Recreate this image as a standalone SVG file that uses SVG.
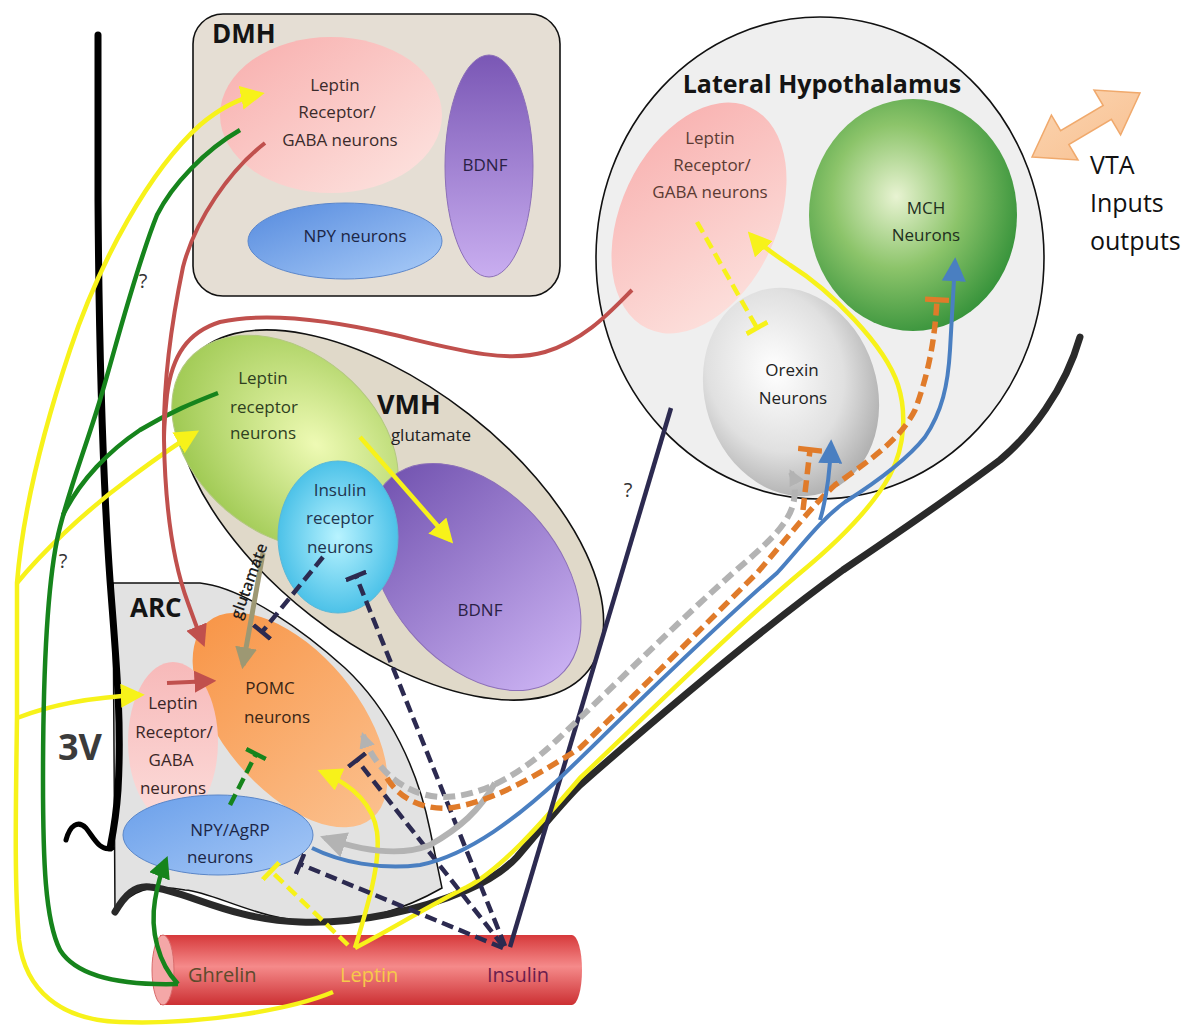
<svg xmlns="http://www.w3.org/2000/svg" width="1204" height="1028" viewBox="0 0 1204 1028">
<defs>
<style>
.t{font-family:"Open Sans","Liberation Sans",sans-serif;font-size:17px;text-anchor:middle}
.lb{font-family:"Open Sans","Liberation Sans",sans-serif;font-weight:700}
.q{font-family:"Open Sans","Liberation Sans",sans-serif;font-size:20px;fill:#333;text-anchor:middle}
.reg{stroke:#111;stroke-width:1.6}
.c{fill:none}
.y{stroke:#f7f21a;stroke-width:4.5}
.g{stroke:#16841c;stroke-width:4.5}
.r{stroke:#c0504d;stroke-width:4}
.n{stroke:#2c2a50;stroke-width:4.5}
.bl{stroke:#4a7fc1;stroke-width:4}
.gr{stroke:#b3b3b3;stroke-width:6}
.o{stroke:#e07b2a;stroke-width:5.5}
.ol{stroke:#9d9873;stroke-width:5}
.d{stroke-dasharray:12 6}
</style>
<marker id="aY" viewBox="0 0 10 10" refX="8" refY="5" markerWidth="24" markerHeight="24" markerUnits="userSpaceOnUse" orient="auto"><path d="M0,0L10,5L0,10z" fill="#f7f21a"/></marker>
<marker id="aR" viewBox="0 0 10 10" refX="8" refY="5" markerWidth="22" markerHeight="22" markerUnits="userSpaceOnUse" orient="auto"><path d="M0,0L10,5L0,10z" fill="#c0504d"/></marker>
<marker id="aG" viewBox="0 0 10 10" refX="8" refY="5" markerWidth="22" markerHeight="22" markerUnits="userSpaceOnUse" orient="auto"><path d="M0,0L10,5L0,10z" fill="#16841c"/></marker>
<marker id="aOl" viewBox="0 0 10 10" refX="8" refY="5" markerWidth="22" markerHeight="22" markerUnits="userSpaceOnUse" orient="auto"><path d="M0,0L10,5L0,10z" fill="#9d9873"/></marker>
<marker id="aB" viewBox="0 0 10 10" refX="8" refY="5" markerWidth="24" markerHeight="24" markerUnits="userSpaceOnUse" orient="auto"><path d="M0,0L10,5L0,10z" fill="#4a7fc1"/></marker>
<marker id="aGr" viewBox="0 0 10 10" refX="8" refY="5" markerWidth="26" markerHeight="26" markerUnits="userSpaceOnUse" orient="auto"><path d="M0,0L10,5L0,10z" fill="#b3b3b3"/></marker>
<marker id="aGrS" viewBox="0 0 10 10" refX="8" refY="5" markerWidth="16" markerHeight="16" markerUnits="userSpaceOnUse" orient="auto-start-reverse"><path d="M0,0L10,5L0,10z" fill="#b3b3b3"/></marker>
<marker id="tY" viewBox="0 0 10 10" refX="5" refY="5" markerWidth="24" markerHeight="24" markerUnits="userSpaceOnUse" orient="auto"><rect x="4" y="0" width="2" height="10" fill="#f7f21a"/></marker>
<marker id="tN" viewBox="0 0 10 10" refX="5" refY="5" markerWidth="22" markerHeight="22" markerUnits="userSpaceOnUse" orient="auto"><rect x="4" y="0" width="2" height="10" fill="#2c2a50"/></marker>
<marker id="tG" viewBox="0 0 10 10" refX="5" refY="5" markerWidth="22" markerHeight="22" markerUnits="userSpaceOnUse" orient="auto"><rect x="4" y="0" width="2" height="10" fill="#16841c"/></marker>
<marker id="tO" viewBox="0 0 10 10" refX="5" refY="5" markerWidth="24" markerHeight="24" markerUnits="userSpaceOnUse" orient="auto"><rect x="4" y="0" width="2.2" height="10" fill="#e07b2a"/></marker>
<linearGradient id="gPink" x1="0" y1="0" x2="1" y2="1"><stop offset="0" stop-color="#f8adac"/><stop offset="1" stop-color="#fde6e2"/></linearGradient>
<linearGradient id="gPurple" x1="0" y1="0" x2="0" y2="1"><stop offset="0" stop-color="#7a57b5"/><stop offset="1" stop-color="#c9aef0"/></linearGradient>
<linearGradient id="gPurple2" x1="0" y1="0" x2="1" y2="0"><stop offset="0" stop-color="#7556b2"/><stop offset="1" stop-color="#c9b0f1"/></linearGradient>
<linearGradient id="gBlue" x1="0" y1="0" x2="1" y2="1"><stop offset="0" stop-color="#558ade"/><stop offset="1" stop-color="#abcdf8"/></linearGradient>
<linearGradient id="gBlue2" x1="0" y1="0" x2="1" y2="1"><stop offset="0" stop-color="#6a9fea"/><stop offset="1" stop-color="#a6c8f6"/></linearGradient>
<radialGradient id="gMCH" cx="0.42" cy="0.42" r="0.62"><stop offset="0" stop-color="#e8f3d2"/><stop offset="0.5" stop-color="#8cc46a"/><stop offset="1" stop-color="#35923a"/></radialGradient>
<radialGradient id="gOrx" cx="0.45" cy="0.38" r="0.65"><stop offset="0" stop-color="#ffffff"/><stop offset="0.6" stop-color="#e0e0e0"/><stop offset="1" stop-color="#ababab"/></radialGradient>
<radialGradient id="gGreen" cx="0.6" cy="0.4" r="0.7"><stop offset="0" stop-color="#eefab4"/><stop offset="1" stop-color="#98c54a"/></radialGradient>
<radialGradient id="gCyan" cx="0.5" cy="0.5" r="0.55"><stop offset="0" stop-color="#b8f3ff"/><stop offset="1" stop-color="#42bde6"/></radialGradient>
<linearGradient id="gOrange" x1="0" y1="0" x2="1" y2="0"><stop offset="0" stop-color="#f8974a"/><stop offset="1" stop-color="#fbbf8c"/></linearGradient>
<linearGradient id="gPinkA" x1="0" y1="0" x2="0" y2="1"><stop offset="0" stop-color="#f7b9b9"/><stop offset="1" stop-color="#fcdcda"/></linearGradient>
<linearGradient id="gVessel" x1="0" y1="0" x2="0" y2="1"><stop offset="0" stop-color="#d6393b"/><stop offset="0.45" stop-color="#f58a8a"/><stop offset="1" stop-color="#cc3033"/></linearGradient>
<linearGradient id="gVta" x1="0" y1="0" x2="1" y2="1"><stop offset="0" stop-color="#fbd6b2"/><stop offset="1" stop-color="#f8bf90"/></linearGradient>
</defs>
<rect width="1204" height="1028" fill="#ffffff"/>

<g id="lateral-hypothalamus">
<ellipse cx="820" cy="258" rx="224" ry="241" fill="#efefef" class="reg"/>
<text class="lb" x="822" y="93" style="font-size:25px" text-anchor="middle" fill="#141414">Lateral Hypothalamus</text>
</g>
<g id="dmh">
<rect x="193" y="14" width="367" height="282" rx="30" fill="#e5ded4" class="reg"/>
<text class="lb" x="212" y="43" style="font-size:26px" fill="#141414">DMH</text>
</g>
<g id="vmh">
<ellipse cx="390" cy="515" rx="252" ry="128" transform="rotate(38 390 515)" fill="#e0d9c9" class="reg"/>
</g>
<g id="arc">
<path d="M113,583 L200,583 C245,588 305,632 345,668 C390,710 418,770 430,830 L442,888 C400,912 360,922 320,922 C260,922 215,892 185,890 C150,884 130,890 115,912 Z" fill="#e2e2e2" stroke="#111" stroke-width="1.5"/>
<text class="lb" x="130" y="617" style="font-size:26px" fill="#141414">ARC</text>
</g>

<g id="dmh-leptin" fill="#3a2b2b">
<ellipse cx="331" cy="115" rx="111" ry="78" fill="url(#gPink)"/>
<text class="t" x="335" y="91">Leptin</text><text class="t" x="337" y="118">Receptor/</text><text class="t" x="340" y="146">GABA neurons</text>
</g>
<g id="dmh-bdnf" fill="#2a1f45">
<ellipse cx="489" cy="166" rx="44" ry="111" fill="url(#gPurple)" stroke="#8c6fb8" stroke-width="1"/>
<text class="t" x="485" y="171">BDNF</text>
</g>
<g id="dmh-npy" fill="#1c2646">
<ellipse cx="345" cy="241" rx="97" ry="38" fill="url(#gBlue)" stroke="#5b87cc" stroke-width="1"/>
<text class="t" x="355" y="242">NPY neurons</text>
</g>

<g id="vmh-leptin" fill="#2f3f1f">
<ellipse cx="285" cy="442" rx="127" ry="90" transform="rotate(40 285 442)" fill="url(#gGreen)" stroke="#b3c880" stroke-width="1"/>
<text class="t" x="263" y="384">Leptin</text><text class="t" x="264" y="413">receptor</text><text class="t" x="263" y="439">neurons</text>
</g>
<g id="vmh-bdnf" fill="#2a1f45">
<ellipse cx="475" cy="577" rx="130" ry="85" transform="rotate(50 475 577)" fill="url(#gPurple2)" stroke="#8c6fb8" stroke-width="1"/>
<text class="t" x="480" y="616">BDNF</text>
</g>
<g id="vmh-insulin" fill="#1f3550">
<ellipse cx="338" cy="537" rx="60" ry="76" fill="url(#gCyan)" stroke="#5ab8d8" stroke-width="1"/>
<text class="t" x="340" y="496">Insulin</text><text class="t" x="340" y="524">receptor</text><text class="t" x="340" y="553">neurons</text>
</g>
<g id="vmh-label">
<text class="lb" x="377" y="414" style="font-size:27px" fill="#141414">VMH</text>
<text class="t" x="431" y="441" fill="#222">glutamate</text>
</g>

<g id="pomc" fill="#3a2515">
<ellipse cx="290" cy="720" rx="128" ry="68" transform="rotate(50 290 720)" fill="url(#gOrange)"/>
<text class="t" x="270" y="694">POMC</text><text class="t" x="277" y="723">neurons</text>
</g>
<g id="arc-leptin" fill="#3a2626">
<ellipse cx="173" cy="742" rx="45" ry="80" fill="url(#gPinkA)"/>
<text class="t" x="173" y="709">Leptin</text><text class="t" x="174" y="738">Receptor/</text><text class="t" x="171" y="766">GABA</text><text class="t" x="173" y="794">neurons</text>
</g>
<g id="npy-agrp" fill="#1c2646">
<ellipse cx="218" cy="835" rx="95" ry="40" fill="url(#gBlue2)" stroke="#5a86c8" stroke-width="1"/>
<text class="t" x="230" y="836">NPY/AgRP</text><text class="t" x="220" y="863">neurons</text>
</g>

<g id="lh-leptin" fill="#5b3b33">
<ellipse cx="699" cy="218" rx="78" ry="122" transform="rotate(25 699 218)" fill="url(#gPink)"/>
<text class="t" x="710" y="144">Leptin</text><text class="t" x="712" y="171">Receptor/</text><text class="t" x="710" y="198">GABA neurons</text>
</g>
<g id="mch" fill="#1e2f1e">
<ellipse cx="913" cy="215" rx="104" ry="116" fill="url(#gMCH)"/>
<text class="t" x="926" y="214">MCH</text><text class="t" x="926" y="241">Neurons</text>
</g>
<g id="orexin" fill="#222">
<ellipse cx="791" cy="392" rx="86" ry="106" transform="rotate(-18 791 392)" fill="url(#gOrx)"/>
<text class="t" x="792" y="376">Orexin</text><text class="t" x="793" y="404">Neurons</text>
</g>

<g id="vta" fill="#111">
<polygon points="1032,157 1078,160 1068.8,144.5 1111.4,119.3 1120.6,134.8 1140,93 1094,90 1103.2,105.5 1060.6,130.7 1051.4,115.2" fill="url(#gVta)" stroke="#f0a96c" stroke-width="1.5"/>
<text class="t" x="1090" y="174" style="font-size:25px;text-anchor:start">VTA</text>
<text class="t" x="1090" y="212" style="font-size:25px;text-anchor:start">Inputs</text>
<text class="t" x="1090" y="250" style="font-size:25px;text-anchor:start">outputs</text>
</g>

<g id="vessel">
<path d="M160,935 L572,935 A10,35 0 0 1 572,1005 L160,1005 Z" fill="url(#gVessel)"/>
<ellipse cx="163" cy="970" rx="11" ry="35" fill="#f4a7a7" stroke="#d96b6b" stroke-width="1"/>
<text class="t" x="188" y="982" style="font-size:20px;text-anchor:start" fill="#5d4a2c">Ghrelin</text>
<text class="t" x="340" y="982" style="font-size:20px;text-anchor:start" fill="#f7c94a">Leptin</text>
<text class="t" x="487" y="982" style="font-size:20px;text-anchor:start" fill="#6b1d4e">Insulin</text>
</g>

<g id="boundaries" fill="none" stroke-linecap="round">
<path d="M98,35 L98,200 C99,350 103,480 110,580 C116,660 122,720 118,790 C116,820 112,838 110,848" stroke="#000" stroke-width="7"/>
<path d="M66,840 C70,825 78,820 86,828 C94,838 100,852 112,848" stroke="#000" stroke-width="5"/>
<path d="M115,912 C125,895 135,885 150,887 C185,890 230,920 300,922 C360,924 420,910 467,890 C490,880 505,870 517,857 C540,830 560,805 580,785 C660,715 760,630 843,570 C880,545 960,490 1000,460 C1030,435 1065,390 1080,337" stroke="#2a2a2a" stroke-width="7"/>
<text class="lb" x="58" y="760" style="font-size:36px" fill="#3b3b3b" stroke="none">3V</text>
</g>

<g id="connectors">
<path class="c y" d="M333,992 C290,1010 200,1025 120,1022 C60,1020 25,990 19,940 C14,880 16,800 17,716 L17,583 C22,520 40,440 70,350 C100,260 150,170 200,125 C220,108 240,98 260,94" marker-end="url(#aY)"/>
<path class="c y" d="M17,583 C40,555 80,515 130,478 C150,463 170,448 195,433" marker-end="url(#aY)"/>
<path class="c y" d="M17,718 C50,705 95,697 140,695" marker-end="url(#aY)"/>
<path class="c y d" d="M348,945 L271,871" marker-end="url(#tY)"/>
<path class="c y" d="M355,948 C368,905 381,862 377,832 C373,803 350,784 322,772" marker-end="url(#aY)"/>
<path class="c y" d="M355,948 C390,930 430,905 467,887 C500,870 540,825 580,778 C650,712 730,632 800,573 C840,540 872,508 890,475 C906,445 906,410 898,385 C885,345 830,290 790,265 C775,255 760,245 751,235" marker-end="url(#aY)"/>
<path class="c y" d="M360,437 L450,540" marker-end="url(#aY)"/>
<path class="c y d" d="M697,222 L757,328" marker-end="url(#tY)"/>
<path class="c g" d="M178,984 C140,985 80,982 60,950 C45,920 43,860 43,780 C43,700 45,600 57,540 C65,500 85,450 100,400 C115,350 135,270 157,215 C172,185 205,150 240,130"/>
<path class="c g" d="M63,515 C80,480 110,450 140,430 C170,412 195,402 218,393"/>
<path class="c g" d="M178,984 C158,963 150,930 155,900 C158,882 162,870 166,860" marker-end="url(#aG)"/>
<path class="c g d" d="M230,805 L256,754" marker-end="url(#tG)"/>
<path class="c r" d="M265,143 C230,170 195,220 183,267 C172,320 163,380 164,440 C165,500 172,560 188,603 C194,620 199,633 203,643" marker-end="url(#aR)"/>
<path class="c r" d="M632,290 C610,312 585,340 545,352 C505,364 450,348 395,335 C330,320 265,312 220,322 C188,332 172,355 167,395 C165,415 164,430 164,440"/>
<path class="c r" d="M167,683 L212,681" marker-end="url(#aR)"/>
<path class="c ol" d="M263,553 L243,665" marker-end="url(#aOl)"/>
<text class="t" transform="translate(254,583) rotate(-70)" style="font-size:16px;font-weight:600" fill="#1e1e1e">glutamate</text>
<path class="c n d" d="M505,946 L356,576" marker-end="url(#tN)"/>
<path class="c n d" d="M503,946 L357,760" marker-end="url(#tN)"/>
<path class="c n d" d="M503,948 L300,864" marker-end="url(#tN)"/>
<path class="c n d" d="M323,557 L262,632" marker-end="url(#tN)"/>
<path class="c n" d="M510,947 L671,408" stroke-width="3.5"/>
<path class="c gr d" d="M363,735 C375,770 405,795 440,797 C480,798 520,775 557,740 C620,680 680,620 733,573 C765,545 790,525 794,500 C796,488 794,478 791,472" marker-start="url(#aGrS)" marker-end="url(#aGrS)"/>
<path class="c gr" d="M495,783 C480,810 460,828 430,845 C400,857 360,850 325,838" marker-end="url(#aGr)"/>
<path class="c o d" d="M387,778 C400,800 425,810 450,808 C490,802 530,780 580,748 C640,690 700,630 757,573 C790,535 810,508 835,485 C870,460 900,440 915,410 C930,370 935,335 937,300" marker-end="url(#tO)"/>
<path class="c o d" d="M803,510 L810,450" marker-end="url(#tO)"/>
<path class="c bl" d="M312,848 C340,862 380,870 420,865 C470,855 520,815 560,778 C620,720 700,640 777,573 C800,548 820,520 845,502 C875,483 905,462 925,437 C942,412 948,385 950,350 L955,262" marker-end="url(#aB)"/>
<path class="c bl" d="M820,520 C826,500 830,470 831,444" marker-end="url(#aB)"/>
<text class="q" x="143" y="288">?</text>
<text class="q" x="63" y="568">?</text>
<text class="q" x="628" y="497">?</text>
</g>
</svg>
